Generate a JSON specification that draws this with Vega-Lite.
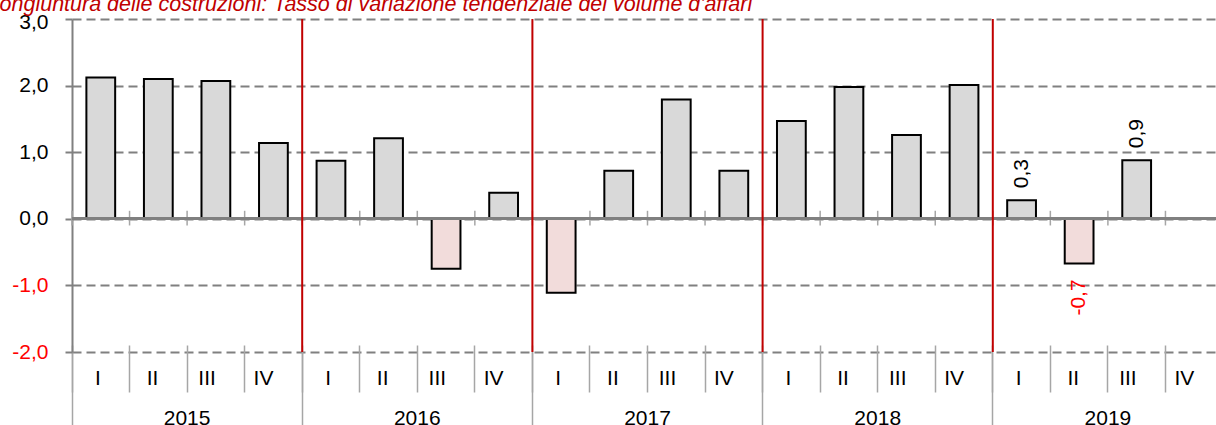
{
  "$schema": "https://vega.github.io/schema/vega-lite/v6.json",
  "width": 1144,
  "height": 333,
  "autosize": {"type": "none"},
  "padding": {"left": 72, "top": 19, "right": 0, "bottom": 73},
  "title": {
    "text": "Congiuntura delle costruzioni: Tasso di variazione tendenziale del volume d'affari",
    "anchor": "start",
    "frame": "group",
    "dx": -88,
    "dy": 23.5,
    "offset": 2,
    "baseline": "alphabetic",
    "font": "Liberation Sans",
    "fontSize": 21.5,
    "fontStyle": "italic",
    "fontWeight": "normal",
    "color": "#c00000"
  },
  "config": {
    "view": {"stroke": null},
    "font": "Liberation Sans",
    "locale": {
      "number": {"decimal": ",", "thousands": ".", "grouping": [3], "currency": ["", " €"], "minus": "-"}
    }
  },
  "datasets": {
    "quarters": [
      {"q": "2015 I", "year": "2015", "v": 2.12},
      {"q": "2015 II", "year": "2015", "v": 2.10},
      {"q": "2015 III", "year": "2015", "v": 2.07},
      {"q": "2015 IV", "year": "2015", "v": 1.14},
      {"q": "2016 I", "year": "2016", "v": 0.87},
      {"q": "2016 II", "year": "2016", "v": 1.21},
      {"q": "2016 III", "year": "2016", "v": -0.75},
      {"q": "2016 IV", "year": "2016", "v": 0.39},
      {"q": "2017 I", "year": "2017", "v": -1.11},
      {"q": "2017 II", "year": "2017", "v": 0.72},
      {"q": "2017 III", "year": "2017", "v": 1.79},
      {"q": "2017 IV", "year": "2017", "v": 0.72},
      {"q": "2018 I", "year": "2018", "v": 1.47},
      {"q": "2018 II", "year": "2018", "v": 1.98},
      {"q": "2018 III", "year": "2018", "v": 1.26},
      {"q": "2018 IV", "year": "2018", "v": 2.01},
      {"q": "2019 I", "year": "2019", "v": 0.28},
      {"q": "2019 II", "year": "2019", "v": -0.67},
      {"q": "2019 III", "year": "2019", "v": 0.88},
      {"q": "2019 IV", "year": "2019", "v": null}
    ],
    "years": [
      {"year": "2016"},
      {"year": "2017"},
      {"year": "2018"},
      {"year": "2019"}
    ]
  },
  "layer": [
    {
      "data": {"name": "quarters"},
      "layer": [
        {
          "mark": {"type": "rule", "color": "#a6a6a6", "strokeWidth": 1.5},
          "encoding": {
            "x": {"field": "q", "type": "ordinal", "bandPosition": 0, "title": null},
            "y": {"datum": 0.12},
            "y2": {"datum": -0.1}
          }
        },
        {
          "mark": {"type": "bar", "stroke": "black", "strokeWidth": 2, "width": {"band": 0.5}},
          "encoding": {
            "x": {
              "field": "q",
              "type": "ordinal",
              "title": null,
              "scale": {
                "domain": ["2015 I", "2015 II", "2015 III", "2015 IV", "2016 I", "2016 II", "2016 III", "2016 IV", "2017 I", "2017 II", "2017 III", "2017 IV", "2018 I", "2018 II", "2018 III", "2018 IV", "2019 I", "2019 II", "2019 III", "2019 IV"],
                "range": [0, 1151],
                "paddingInner": 0,
                "paddingOuter": 0
              },
              "axis": {
                "orient": "bottom",
                "offset": -7,
                "domain": false,
                "bandPosition": 0,
                "ticks": true,
                "tickSize": 47,
                "tickColor": "#a6a6a6",
                "tickWidth": 1.5,
                "labelExpr": "split(datum.label, ' ')[1]",
                "labelFontSize": 21,
                "labelColor": "black",
                "labelPadding": -13.5,
                "labelAngle": 0,
                "grid": false
              }
            },
            "y": {
              "field": "v",
              "type": "quantitative",
              "title": null,
              "scale": {"domain": [-2, 3], "nice": false},
              "axis": {
                "values": [-2, -1, 0, 1, 2, 3],
                "format": ".1f",
                "domainColor": "#808080",
                "domainWidth": 2,
                "tickColor": "#808080",
                "tickWidth": 2,
                "tickSize": 7,
                "labelFontSize": 21,
                "labelPadding": 17,
                "labelOffset": {"condition": {"test": "datum.value === 3", "value": 3}, "value": 0},
                "labelColor": {"condition": {"test": "datum.value < 0", "value": "#ff0000"}, "value": "black"},
                "grid": true,
                "gridColor": "#808080",
                "gridWidth": 2,
                "gridDash": [9, 5]
              }
            },
            "fill": {"condition": {"test": "datum.v < 0", "value": "#f2dcdb"}, "value": "#d9d9d9"}
          }
        },
        {
          "mark": {"type": "rule", "color": "#808080", "strokeWidth": 2},
          "encoding": {"y": {"datum": 0}}
        },
        {
          "transform": [{"filter": "datum.year == '2019' && datum.v > 0"}],
          "mark": {"type": "text", "angle": 270, "align": "left", "baseline": "middle", "dx": 12, "fontSize": 21, "color": "black"},
          "encoding": {
            "x": {"field": "q", "type": "ordinal", "title": null},
            "y": {"field": "v", "type": "quantitative", "title": null},
            "text": {"field": "v", "type": "quantitative", "format": ".1f"}
          }
        },
        {
          "transform": [{"filter": "datum.year == '2019' && datum.v < 0"}],
          "mark": {"type": "text", "angle": 270, "align": "right", "baseline": "middle", "dx": -16, "fontSize": 21, "color": "#ff0000"},
          "encoding": {
            "x": {"field": "q", "type": "ordinal", "title": null},
            "y": {"field": "v", "type": "quantitative", "title": null},
            "text": {"field": "v", "type": "quantitative", "format": ".1f"}
          }
        }
      ]
    },
    {
      "data": {"name": "years"},
      "mark": {"type": "rule", "color": "#c00000", "strokeWidth": 2},
      "encoding": {
        "x": {
          "field": "year",
          "type": "ordinal",
          "bandPosition": 0,
          "title": null,
          "scale": {
            "domain": ["2015", "2016", "2017", "2018", "2019"],
            "range": [0, 1151],
            "paddingInner": 0,
            "paddingOuter": 0
          },
          "axis": {
            "orient": "bottom",
            "domain": false,
            "bandPosition": 0,
            "ticks": true,
            "tickSize": 73,
            "tickColor": "#a6a6a6",
            "tickWidth": 1.5,
            "labelFontSize": 21,
            "labelColor": "black",
            "labelPadding": -17.5,
            "labelAngle": 0,
            "grid": false
          }
        },
        "y": {"datum": 3},
        "y2": {"datum": -2}
      }
    }
  ],
  "resolve": {"scale": {"x": "independent"}, "axis": {"x": "independent"}}
}
